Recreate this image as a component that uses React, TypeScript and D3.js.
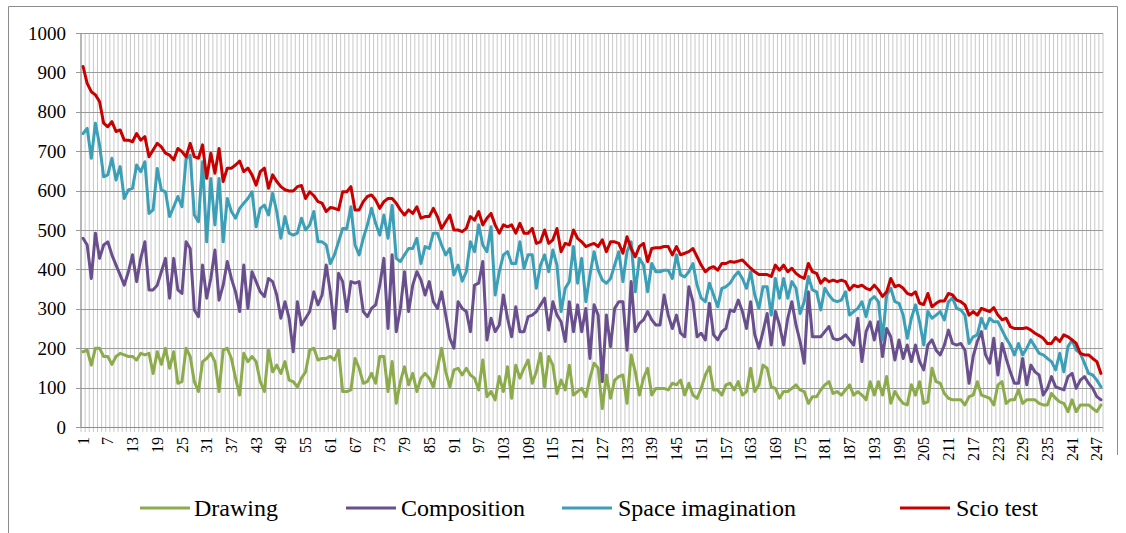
import React from "react";
import * as d3 from "d3";

const scio: number[] = [
  915,872,851,843,826,771,762,775,750,754,728,728,724,745,728,737,686,703,720,711,695,690,678,707,699,686,720,686,682,716,
  631,695,644,707,623,657,657,665,675,648,657,640,614,648,657,606,640,623,610,602,599,599,610,613,580,597,587,572,568,547,557,555,
  551,597,597,610,551,551,572,585,589,576,555,572,580,580,568,551,538,551,542,559,530,534,534,555,534,504,521,538,500,500,496,
  504,534,525,547,513,530,542,513,492,513,508,513,492,517,492,492,504,466,470,500,466,475,504,445,466,462,500,479,470,458,462,466,
  458,475,445,470,470,466,441,483,453,432,458,466,420,453,455,455,458,458,437,458,437,441,445,453,432,411,394,403,407,398,415,
  415,420,418,421,424,413,403,394,387,387,387,382,411,398,411,394,403,390,382,377,415,394,390,365,377,369,373,369,373,369,348,360,
  356,360,352,348,360,348,331,343,377,356,360,352,339,335,343,314,311,339,305,314,320,320,339,335,322,318,310,284,293,284,301,
  297,293,303,284,272,276,255,250,250,250,252,246,238,232,225,212,212,227,217,234,229,221,212,187,183,183,174,166,136,
];

const space: number[] = [
  745,758,682,771,716,635,640,682,627,661,580,602,606,665,648,673,542,551,656,602,597,534,559,585,559,680,690,538,521,673,
  470,631,513,631,470,580,547,530,555,568,580,597,508,555,563,538,593,547,479,534,492,487,492,530,500,513,547,470,470,462,415,437,
  470,504,504,559,462,437,479,513,555,517,487,538,479,563,428,420,437,453,453,479,415,458,453,492,492,462,437,453,386,411,370,
  394,470,445,513,462,445,508,335,394,437,445,415,415,470,403,437,437,352,411,437,394,449,411,293,352,369,458,365,428,318,386,445,
  398,373,365,377,411,445,369,445,470,343,428,411,343,415,394,394,398,398,377,437,386,381,394,415,360,327,318,365,335,305,352,
  356,365,382,394,377,352,394,335,301,356,356,284,377,327,377,327,369,352,288,318,382,348,343,297,352,335,322,318,322,343,284,293,
  301,318,280,322,331,318,221,335,352,318,314,284,225,276,310,267,208,293,276,284,293,272,318,327,301,297,284,212,229,234,276,
  250,276,267,267,246,225,208,183,212,183,200,221,204,187,183,174,166,145,187,140,204,221,195,187,162,136,132,119,102,
];

const composition: number[] = [
  479,462,377,492,428,462,470,437,411,386,360,394,437,369,428,470,348,348,360,394,428,327,428,348,339,470,453,297,280,411,
  327,377,449,322,360,420,377,343,293,411,301,394,369,343,331,377,369,335,276,318,276,191,318,259,276,293,343,310,335,411,343,250,
  390,369,293,369,365,369,293,280,301,310,360,428,250,437,242,301,394,293,360,394,373,335,369,318,301,343,284,225,200,318,301,
  293,242,360,365,420,221,276,242,259,335,276,229,305,242,242,280,284,293,310,327,246,318,284,267,217,318,242,310,242,301,174,310,
  284,115,284,204,301,318,318,195,369,242,263,272,293,272,259,259,335,284,250,284,238,229,356,318,229,238,221,314,234,221,242,
  250,297,293,322,293,250,318,234,200,242,288,208,293,259,208,276,318,259,217,162,343,229,229,229,242,255,225,221,225,234,221,208,
  276,166,242,267,221,267,179,250,229,170,221,174,208,166,208,166,145,208,221,195,183,208,246,212,208,212,195,111,179,217,242,
  183,162,225,132,212,174,140,111,111,174,107,157,140,132,81,98,128,102,98,94,128,136,98,119,128,111,98,77,69,
];

const drawing: number[] = [
  191,195,157,200,200,179,179,159,179,187,183,179,179,170,187,183,187,136,191,159,200,149,191,111,115,200,179,115,90,166,
  174,187,166,90,195,200,174,124,81,187,166,179,166,115,90,195,140,157,136,166,119,115,102,124,140,195,200,170,174,174,179,170,
  195,90,90,94,174,149,111,115,136,111,179,179,90,166,60,115,153,107,136,90,124,136,124,102,149,200,140,102,145,149,132,
  149,132,124,94,170,77,90,69,128,90,153,73,157,124,149,170,111,140,187,102,179,157,85,119,94,157,81,90,98,77,124,162,
  149,47,132,73,119,128,132,60,183,140,81,124,149,81,98,98,98,94,111,107,119,81,111,81,73,98,132,153,94,94,81,
  107,111,94,115,81,90,149,90,107,157,149,102,98,73,90,90,98,107,94,90,60,77,77,94,107,115,85,90,81,94,107,81,
  90,81,69,115,81,115,81,128,60,90,73,60,56,107,81,115,60,64,149,115,111,85,73,69,69,69,56,77,81,115,81,
  77,73,56,107,115,60,69,69,94,60,69,69,69,60,56,56,85,73,64,60,39,69,39,56,56,56,47,39,56,
];

const categories: number[] = Array.from({ length: scio.length }, (_, i) => i + 1);
const yTicks: number[] = [0, 100, 200, 300, 400, 500, 600, 700, 800, 900, 1000];
const xLabelEvery = 6;

const seriesNames = ["Drawing", "Composition", "Space imagination", "Scio test"];
const seriesColors = ["#8cac4c", "#6a4f8f", "#3b9fb7", "#c80000"];
const seriesData = [drawing, composition, space, scio];

const W = 1126;
const H = 533;
const left = 81;
const right = 1103;
const top = 33;
const bottom = 427;
const FONT = "Liberation Serif";

export default function App() {
  const x = d3.scaleBand<number>().domain(categories).range([left, right]).paddingInner(0).paddingOuter(0);
  const y = d3.scaleLinear().domain([0, 1000]).range([bottom, top]);
  const bw = x.bandwidth();
  const cx = (c: number) => (x(c) as number) + bw / 2;

  const boundaries = d3.range(categories.length + 1).map((i) => left + i * bw);

  const legendLayout = [
    { lx: 140, tx: 194 },
    { lx: 346, tx: 401 },
    { lx: 562, tx: 618 },
    { lx: 900, tx: 956 },
  ];

  return (
    <svg width={W} height={H} style={{ position: "absolute", left: 0, top: 0 }}>
      <rect x={0} y={0} width={W} height={H} fill="#fff" />
      <foreignObject x={0} y={0} width={1} height={1}></foreignObject>
      {/* frame */}
      <line x1={8.5} y1={6.5} x2={8.5} y2={533} stroke="#8c8c8c" strokeWidth={1} />
      <line x1={8.5} y1={6.5} x2={1117.5} y2={6.5} stroke="#8c8c8c" strokeWidth={1} />
      <line x1={1117.5} y1={6.5} x2={1117.5} y2={455} stroke="#8c8c8c" strokeWidth={1} />

      {/* vertical grid */}
      {boundaries.map((bx, i) => (
        <line key={"vg" + i} x1={bx} x2={bx} y1={top} y2={bottom + 5} stroke="#c8c8c8" strokeWidth={1} />
      ))}
      {/* horizontal grid */}
      {yTicks.map((t) => (
        <line key={"hg" + t} x1={left - 5} x2={right} y1={Math.round(y(t)) + 0.5} y2={Math.round(y(t)) + 0.5} stroke="#9a9a9a" strokeWidth={1} />
      ))}
      <line x1={left} x2={left} y1={top} y2={bottom} stroke="#8c8c8c" strokeWidth={1} />
      <line x1={left} x2={right} y1={Math.round(y(0)) + 0.5} y2={Math.round(y(0)) + 0.5} stroke="#8c8c8c" strokeWidth={1} />

      {/* y labels */}
      {yTicks.map((t) => (
        <text key={"yl" + t} x={66} y={y(t)} dy="0.35em" textAnchor="end" fontSize={19} fill="#000" fontFamily={FONT}>
          {t}
        </text>
      ))}

      {/* x labels */}
      {categories
        .filter((c) => (c - 1) % xLabelEvery === 0)
        .map((c) => (
          <text
            key={"xl" + c}
            transform={`translate(${cx(c)},${bottom + 10}) rotate(-90)`}
            dy="0.35em"
            textAnchor="end"
            fontSize={16}
            fill="#000"
            fontFamily={FONT}
          >
            {c}
          </text>
        ))}

      {/* series lines */}
      {seriesData.map((data, si) => {
        const line = d3
          .line<number>()
          .x((_, i) => cx(categories[i]))
          .y((d) => y(d));
        return (
          <path
            key={"s" + si}
            d={line(data) || ""}
            fill="none"
            stroke={seriesColors[si]}
            strokeWidth={3}
            strokeLinejoin="round"
            strokeLinecap="round"
          />
        );
      })}

      {/* legend */}
      {seriesNames.map((name, i) => (
        <g key={"lg" + i}>
          <line x1={legendLayout[i].lx} x2={legendLayout[i].lx + 50} y1={508} y2={508} stroke={seriesColors[i]} strokeWidth={3} />
          <text x={legendLayout[i].tx} y={508} dy="0.35em" fontSize={24} fill="#000" fontFamily={FONT}>
            {name}
          </text>
        </g>
      ))}
    </svg>
  );
}
